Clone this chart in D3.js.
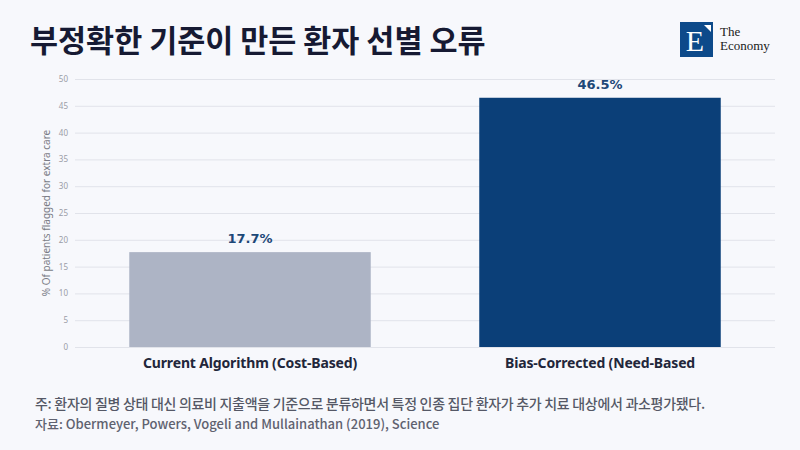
<!DOCTYPE html>
<html>
<head>
<meta charset="utf-8">
<script src="https://cdn.jsdelivr.net/npm/d3@7"></script>
<style>
  body { margin: 0; background: #f7f8fc; }
  svg { display: block; }
</style>
</head>
<body>
<div id="chart"></div>
<script>
var width = 800,
	height = 450;

var categories = ["Current Algorithm (Cost-Based)", "Bias-Corrected (Need-Based"];
var values = [17.7, 46.5];
var yTicks = [0, 5, 10, 15, 20, 25, 30, 35, 40, 45, 50];
var barColors = ["#adb4c5", "#0b3f78"];

var title = "부정확한 기준이 만든 환자 선별 오류";
var note = "주: 환자의 질병 상태 대신 의료비 지출액을 기준으로 분류하면서 특정 인종 집단 환자가 추가 치료 대상에서 과소평가됐다.";
var source = "자료: Obermeyer, Powers, Vogeli and Mullainathan (2019), Science";

var svg = d3.select("#chart").append("svg")
	.attr("width", width)
	.attr("height", height)
	.style("background", "#f7f8fc");

var x = d3.scaleBand()
	.domain(categories)
	.range([75, 775])
	.paddingInner(0.31)
	.paddingOuter(0.155);

var y = d3.scaleLinear()
	.domain([0, 50])
	.range([347, 79]);

// gridlines
svg.append("g")
	.selectAll("line")
	.data(yTicks)
	.enter().append("line")
	.attr("x1", 75)
	.attr("x2", 775)
	.attr("y1", function(d) { return y(d) + 0.5; })
	.attr("y2", function(d) { return y(d) + 0.5; })
	.attr("stroke", "#e1e3ea")
	.attr("stroke-width", 1);

// y axis labels
var yAxis = d3.axisLeft(y).tickValues(yTicks).tickSize(0).tickPadding(0);
svg.append("g")
	.attr("transform", "translate(68,0)")
	.call(yAxis)
	.call(function(g) { g.select(".domain").remove(); })
	.selectAll("text")
	.attr("fill", "#9a9ca6")
	.style("font-family", "'Noto Sans', sans-serif")
	.style("font-size", "8px");

svg.append("text")
	.attr("transform", "translate(50,213) rotate(-90)")
	.attr("text-anchor", "middle")
	.attr("fill", "#7a7c86")
	.style("font-family", "'Noto Sans', sans-serif")
	.style("font-size", "10px")
	.text("% Of patients flagged for extra care");

// bars
svg.append("g")
	.selectAll("rect")
	.data(values)
	.enter().append("rect")
	.attr("x", function(d, i) { return x(categories[i]); })
	.attr("y", function(d) { return y(d); })
	.attr("width", x.bandwidth())
	.attr("height", function(d) { return y(0) - y(d); })
	.attr("fill", function(d, i) { return barColors[i]; });

// value labels
svg.append("g")
	.selectAll("text")
	.data(values)
	.enter().append("text")
	.attr("x", function(d, i) { return x(categories[i]) + x.bandwidth() / 2; })
	.attr("y", function(d) { return y(d) - 9; })
	.attr("text-anchor", "middle")
	.attr("fill", "#1d4878")
	.style("font-family", "'DejaVu Sans', sans-serif")
	.style("font-weight", "bold")
	.style("font-size", "13px")
	.text(function(d) { return d.toFixed(1) + "%"; });

// category labels
var xAxis = d3.axisBottom(x).tickSize(0).tickPadding(0);
svg.append("g")
	.attr("transform", "translate(0,358)")
	.call(xAxis)
	.call(function(g) { g.select(".domain").remove(); })
	.selectAll("text")
	.attr("fill", "#22263a")
	.style("font-family", "'Noto Sans', sans-serif")
	.style("font-weight", "bold")
	.style("font-size", "14px")
	.style("letter-spacing", "-0.15px");

// title
svg.append("text")
	.attr("x", 30)
	.attr("y", 52)
	.attr("fill", "#161a33")
	.style("font-family", "'Noto Sans CJK KR', sans-serif")
	.style("font-weight", "bold")
	.style("font-size", "30.5px")
	.text(title);

// footnotes
svg.append("text")
	.attr("x", 35)
	.attr("y", 409)
	.attr("fill", "#555866")
	.style("font-family", "'Noto Sans CJK KR', sans-serif")
	.style("font-weight", "500")
	.style("font-size", "14px")
	.style("letter-spacing", "-0.3px")
	.text(note);

svg.append("text")
	.attr("x", 35)
	.attr("y", 429)
	.attr("fill", "#5f6270")
	.style("font-family", "'Noto Sans CJK KR', sans-serif")
	.style("font-weight", "500")
	.style("font-size", "13px")
	.text(source);

// logo
var logo = svg.append("g").attr("transform", "translate(680,22)");
logo.append("rect")
	.attr("width", 33)
	.attr("height", 35)
	.attr("fill", "#0d4a8a");
logo.append("text")
	.attr("x", 15)
	.attr("y", 29)
	.attr("text-anchor", "middle")
	.attr("fill", "#ffffff")
	.style("font-family", "'Liberation Serif', serif")
	.style("font-size", "30px")
	.text("E");
logo.append("path")
	.attr("d", "M24,3 L31,3 L31,10 Z")
	.attr("fill", "#ffffff");
logo.append("text")
	.attr("x", 40)
	.attr("y", 14)
	.attr("fill", "#1a1a1a")
	.style("font-family", "'Liberation Serif', serif")
	.style("font-size", "13px")
	.text("The");
logo.append("text")
	.attr("x", 40)
	.attr("y", 28)
	.attr("fill", "#1a1a1a")
	.style("font-family", "'Liberation Serif', serif")
	.style("font-size", "13px")
	.text("Economy");
</script>
</body>
</html>
